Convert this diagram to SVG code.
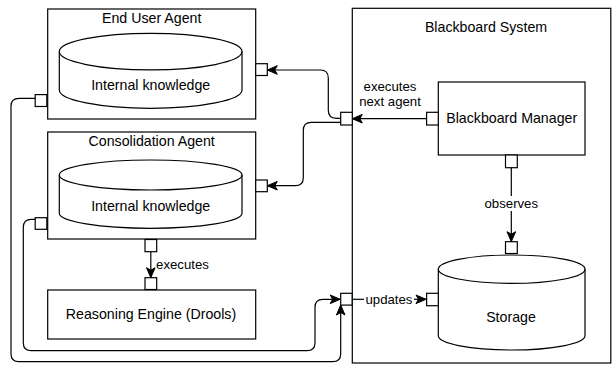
<svg xmlns="http://www.w3.org/2000/svg" width="613" height="365" viewBox="0 0 613 365">
<style>
.box{fill:#fff;stroke:#000;stroke-width:1.2}
.port{fill:#fff;stroke:#000;stroke-width:1.2}
.edge{fill:none;stroke:#000;stroke-width:1.2}
.t{font-family:"Liberation Sans",Arial,sans-serif;font-size:14.2px;fill:#000;text-anchor:middle}
.l{font-family:"Liberation Sans",Arial,sans-serif;font-size:13.2px;fill:#000;text-anchor:middle}
</style>
<defs>
<marker id="arr" markerUnits="userSpaceOnUse" viewBox="-11 -5 12 10" refX="0" refY="0" markerWidth="12" markerHeight="10" orient="auto">
<path d="M0,0 L-10,-4.3 L-7.5,0 L-10,4.3 Z" fill="#000" stroke="#000" stroke-width="1"/>
</marker>
</defs>
<rect width="613" height="365" fill="#fff"/>

<g id="blackboard-system">
<rect class="box" x="352.3" y="8.3" width="258.5" height="354.7"/>
<text class="t" x="486" y="31.7">Blackboard System</text>
</g>

<g id="end-user-agent">
<rect class="box" x="47.7" y="9" width="208" height="110"/>
<text class="t" x="151.7" y="23.3">End User Agent</text>
<path class="box" d="M59.3,51.6 A91.35,18.3 0 0 1 242,51.6 L242,90 A91.35,18.3 0 0 1 59.3,90 Z"/>
<path class="edge" d="M59.3,51.6 A91.35,18.3 0 0 0 242,51.6"/>
<text class="t" x="150.7" y="90">Internal knowledge</text>
</g>

<g id="consolidation-agent">
<rect class="box" x="47.7" y="132" width="208" height="107"/>
<text class="t" x="151.7" y="145.7">Consolidation Agent</text>
<path class="box" d="M59.3,175 A91.35,15 0 0 1 242,175 L242,213.3 A91.35,15 0 0 1 59.3,213.3 Z"/>
<path class="edge" d="M59.3,175 A91.35,15 0 0 0 242,175"/>
<text class="t" x="150.7" y="211">Internal knowledge</text>
</g>

<g id="reasoning-engine">
<rect class="box" x="47.7" y="290" width="208" height="49"/>
<text class="t" x="151" y="319">Reasoning Engine (Drools)</text>
</g>

<g id="blackboard-manager">
<rect class="box" x="438.3" y="82" width="146.7" height="73"/>
<text class="t" x="511.7" y="123.3">Blackboard Manager</text>
</g>

<g id="storage">
<path class="box" d="M438.3,269.2 A73.35,14.2 0 0 1 585,269.2 L585,335.8 A73.35,14.2 0 0 1 438.3,335.8 Z"/>
<path class="edge" d="M438.3,269.2 A73.35,14.2 0 0 0 585,269.2"/>
<text class="t" x="511" y="322.3">Storage</text>
</g>

<g id="connectors">
<path class="edge" d="M427,118.7 L352.3,118.7" marker-end="url(#arr)"/>
<path class="edge" d="M340.7,118.3 L336.3,118.3 Q328.3,118.3 328.3,110.3 L328.3,78 Q328.3,70 320.3,70 L267.3,70" marker-end="url(#arr)"/>
<path class="edge" d="M340.7,122.3 L311.3,122.3 Q303.3,122.3 303.3,130.3 L303.3,177.7 Q303.3,185.7 295.3,185.7 L267.3,185.7" marker-end="url(#arr)"/>
<path class="edge" d="M150.8,251.7 L150.8,277.7" marker-end="url(#arr)"/>
<path class="edge" d="M511.3,167.7 L511.3,196"/>
<path class="edge" d="M511.3,211 L511.3,241.7" marker-end="url(#arr)"/>
<path class="edge" d="M352,299.3 L364,299.3"/>
<path class="edge" d="M414,299.3 L426,299.3" marker-end="url(#arr)"/>
<path class="edge" d="M35,98.3 L19,98.3 Q11,98.3 11,106.3 L11,353.7 Q11,361.7 19,361.7 L332.7,361.7 Q340.7,361.7 340.7,353.7 L340.7,305" marker-end="url(#arr)"/>
<path class="edge" d="M35,219.3 L31.3,219.3 Q23.3,219.3 23.3,227.3 L23.3,342.7 Q23.3,350.7 31.3,350.7 L307,350.7 Q315,350.7 315,342.7 L315,307.3 Q315,299.3 323,299.3 L340.2,299.3" marker-end="url(#arr)"/>
<text class="l" x="390" y="90.7">executes</text>
<text class="l" x="390" y="106.4">next agent</text>
<text class="l" x="182.5" y="269">executes</text>
<text class="l" x="511.3" y="208">observes</text>
<text class="l" x="389" y="304.3">updates</text>
</g>

<g id="ports">
<rect class="port" x="255.7" y="63.7" width="11.6" height="11.8"/>
<rect class="port" x="35.2" y="94.6" width="11.6" height="11.9"/>
<rect class="port" x="255.7" y="180" width="11.6" height="11.7"/>
<rect class="port" x="35.2" y="217.7" width="11.6" height="11.6"/>
<rect class="port" x="145" y="239.5" width="11.7" height="12.2"/>
<rect class="port" x="145" y="277.7" width="11.7" height="11.8"/>
<rect class="port" x="340.7" y="112.3" width="11.6" height="12.7"/>
<rect class="port" x="426.6" y="112.3" width="11.7" height="12.7"/>
<rect class="port" x="505.5" y="155" width="11.8" height="12.7"/>
<rect class="port" x="505.5" y="241.7" width="11.8" height="11.8"/>
<rect class="port" x="340.7" y="293.3" width="11.4" height="11.8"/>
<rect class="port" x="426.6" y="293.3" width="11.7" height="12.4"/>
</g>
</svg>
